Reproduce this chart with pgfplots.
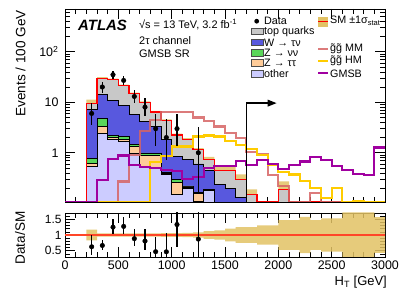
\documentclass[border=0pt]{standalone}
\usepackage{pgfplots}
\pgfplotsset{compat=1.18}
\usepackage{pgfplotstable}
\usepgfplotslibrary{fillbetween}
\usetikzlibrary{arrows.meta}
\usepackage{fontspec}
\setmainfont{Liberation Sans}
\definecolor{cTop}{RGB}{200,200,200}
\definecolor{cW}{RGB}{88,88,222}
\definecolor{cZnn}{RGB}{90,214,90}
\definecolor{cZtt}{RGB}{255,204,153}
\definecolor{cOth}{RGB}{204,204,255}
\definecolor{cMM}{RGB}{214,100,100}
\definecolor{cHM}{RGB}{255,204,0}
\definecolor{cGM}{RGB}{160,0,160}
\definecolor{cBand}{RGB}{226,194,100}
\definecolor{cSM}{RGB}{255,0,0}
\definecolor{cRat}{RGB}{255,70,40}
\newcommand\fs[1]{\fontsize{#1}{#1}\selectfont}

% cumulative stack: other, +Z->tautau, +Z->nunu, +W->taunu, +top (total)
\pgfplotstableread{
x c1 c2 c3 c4 c5
200 0.01 0.01 0.01 0.01 0.01
200 0.535 0.625 0.785 7.3 9.6
300 2.45 3.3 4.86 14.1 30
400 1.81 2.0 2.2 10.8 28
500 1.7 1.8 2.1 8.7 21.2
600 0.99 1.33 1.44 5.7 14.7
700 0.54 0.88 0.99 4.17 9.9
800 0.5 0.88 0.95 3.3 6.4
900 0.37 0.39 0.41 1.8 4.3
1000 0.147 0.26 0.29 0.85 2.25
1100 0.2 0.21 0.22 0.73 1.81
1200 0.11 0.155 0.165 0.6 1.15
1300 0.177 0.18 0.185 0.45 0.74
1400 0.01 0.01 0.01 0.24 0.45
1500 0.01 0.01 0.01 0.2 0.45
1600 0.01 0.01 0.01 0.13 0.3
1700 0.01 0.01 0.01 0.01 0.15
1800 0.01 0.01 0.01 0.01 0.01
1900 0.01 0.01 0.01 0.01 0.01
2000 0.01 0.01 0.01 0.01 0.185
2100 0.01 0.01 0.01 0.01 0.01
2200 0.01 0.01 0.01 0.01 0.01
}\stack

\pgfplotstableread{
x t
0 0.106
200 9.6
300 30
400 28
500 21.2
600 14.7
700 9.9
800 6.4
900 4.3
1000 2.25
1100 1.81
1200 1.15
1300 0.74
1400 0.45
1500 0.45
1600 0.3
1700 0.15
1800 0.106
1900 0.106
2000 0.185
2100 0.106
3000 0.106
}\smline

\pgfplotstableread{
x lo hi
200 7.97 11.23
300 28.5 31.5
400 26.6 29.4
500 20.14 22.26
600 13.97 15.44
700 9.41 10.40
800 6.08 6.72
900 4.04 4.56
1000 2.12 2.39
1100 1.68 1.94
1200 1.06 1.24
1300 0.65 0.83
1400 0.383 0.518
1500 0.36 0.54
1600 0.225 0.375
1700 0.1125 0.1875
1800 0.01 0.01
1900 0.01 0.01
2000 0.098 0.272
2100 0.01 0.01
2200 0.01 0.01
}\mband

\pgfplotstableread{
x mm hm gm
0 0.106 0.106 0.106
100 0.106 0.106 0.106
200 0.106 0.106 0.106
300 0.106 0.106 0.29
400 0.106 0.106 0.75
500 0.27 0.106 0.88
600 0.91 0.106 0.58
700 2.7 0.106 0.52
800 4.5 0.65 0.5
900 6.3 0.85 0.45
1000 6.3 1.33 0.43
1100 6.3 1.33 0.3
1200 5.0 2.1 0.33
1300 4.3 2.2 0.5
1400 3.3 2.1 0.54
1500 2.45 1.73 0.54
1600 1.95 1.44 0.69
1700 1.03 1.18 0.58
1800 0.94 0.91 0.73
1900 0.36 0.58 0.6
2000 0.22 0.41 0.48
2100 0.106 0.37 0.58
2200 0.106 0.28 0.67
2300 0.16 0.2 0.81
2400 0.106 0.127 0.73
2500 0.106 0.2 0.54
2600 0.106 0.106 0.46
2700 0.106 0.11 0.38
2800 0.106 0.106 0.36
2900 0.106 0.106 1.27
3000 0.106 0.106 1.27
}\sig

\pgfplotstableread{
x y em ep
250 6 2.38 3.58
350 20 4.44 5.55
450 35 5.89 6.97
550 27 5.16 6.24
650 13 3.56 4.67
750 8 2.76 3.94
850 3 1.63 2.92
950 2 1.29 2.64
1050 3 1.63 2.92
1250 1 0.83 2.30
}\data

\pgfplotstableread{
x r em ep
250 0.625 0.248 0.373
350 0.667 0.148 0.185
450 1.25 0.21 0.249
550 1.274 0.243 0.294
650 0.884 0.242 0.318
750 0.808 0.279 0.398
850 0.469 0.255 0.456
950 0.465 0.30 0.614
1050 1.333 0.724 1.298
1250 0.87 0.722 2.0
}\ratio

\pgfplotstableread{
x lo hi
200 0.83 1.17
300 0.95 1.05
400 0.95 1.05
500 0.95 1.05
600 0.95 1.05
700 0.95 1.05
800 0.95 1.05
900 0.94 1.06
1000 0.94 1.06
1100 0.93 1.07
1200 0.92 1.08
1300 0.88 1.12
1400 0.85 1.15
1500 0.80 1.20
1600 0.75 1.25
1700 0.75 1.25
1800 0.69 1.31
1900 0.69 1.31
2000 0.53 1.47
2100 0.53 1.47
2200 0.42 1.58
2300 0.53 1.47
2400 0.47 1.53
2500 0.47 1.53
2600 0.28 1.72
2700 0.28 1.72
2800 0.28 1.72
2900 0.43 1.57
3000 0.43 1.57
}\rband

\pgfplotsset{
  every tick label/.append style={font=\fs{12.5}},
  atlas/.style={
    scale only axis, width=320bp, anchor=south west,
    xmin=0, xmax=3000,
    tick align=inside, tick pos=both,
    major tick length=10bp, minor tick length=5bp,
    every tick/.style={black, line width=0.6bp},
    axis line style={line width=0.8bp},
    xtick={0,500,...,3000}, minor x tick num=4,
  },
}

\begin{document}
\begin{tikzpicture}
\path (0bp,0bp) rectangle (407bp,292bp);

\begin{axis}[atlas, at={(65bp,90bp)}, height=193bp,
  ymode=log, ymin=0.106, ymax=700,
  xticklabels={},
  ytick={1,10,100}, yticklabels={1,10,10\textsuperscript{2}},
  minor ytick={0.2,0.3,0.4,0.5,0.6,0.7,0.8,0.9,2,3,4,5,6,7,8,9,20,30,40,50,60,70,80,90,200,300,400,500,600},
  yticklabel style={xshift=-3bp},
]
\addplot[const plot, fill=cTop, draw=black, line width=0.9bp] table[x=x,y=c5]{\stack} -- cycle;
\addplot[const plot, fill=cW, draw=black, line width=0.9bp] table[x=x,y=c4]{\stack} -- cycle;
\addplot[const plot, fill=cZnn, draw=black, line width=0.9bp] table[x=x,y=c3]{\stack} -- cycle;
\addplot[const plot, fill=cZtt, draw=black, line width=0.9bp] table[x=x,y=c2]{\stack} -- cycle;
\addplot[const plot, fill=cOth, draw=black, line width=0.9bp] table[x=x,y=c1]{\stack} -- cycle;

\addplot[name path=bu, draw=none, const plot] table[x=x,y=hi]{\mband};
\addplot[name path=bl, draw=none, const plot] table[x=x,y=lo]{\mband};
\addplot[fill=cBand, fill opacity=0.85, draw=none] fill between[of=bu and bl];

\addplot[const plot, cSM, line width=1.2bp] table[x=x,y=t]{\smline};

\addplot[const plot, cMM, line width=2.2bp, opacity=0.85] table[x=x,y=mm]{\sig};
\addplot[const plot, cHM, line width=2.2bp] table[x=x,y=hm]{\sig};
\addplot[const plot, cGM, line width=2.2bp] table[x=x,y=gm]{\sig};

\addplot[only marks, mark=*, mark size=2.3bp, black,
  error bars/.cd, y dir=both, y explicit, error mark=none,
  error bar style={line width=1.3bp, black}]
  table[x=x,y=y,y error plus=ep,y error minus=em]{\data};

\draw[black, line width=1.6bp, -{Triangle[length=9bp,width=6.5bp]}]
  (axis cs:1700,0.106) -- (axis cs:1700,9.6) -- (axis cs:1985,9.6);
\end{axis}

\begin{axis}[atlas, at={(65bp,35bp)}, height=44bp,
  ymin=0.3, ymax=1.7,
  xticklabels={0,500,1000,1500,2000,2500,3000},
  ytick={0.5,1,1.5}, yticklabels={0.5,1,1.5},
  minor ytick={0.4,0.6,0.7,0.8,0.9,1.1,1.2,1.3,1.4,1.6},
  yticklabel style={font=\fs{12}},
]
\addplot[name path=ru, draw=none, const plot] table[x=x,y=hi]{\rband};
\addplot[name path=rl, draw=none, const plot] table[x=x,y=lo]{\rband};
\addplot[fill=cBand, fill opacity=0.85, draw=none] fill between[of=ru and rl];
\addplot[cRat, line width=1.8bp] coordinates {(0,1) (3000,1)};
\addplot[only marks, mark=*, mark size=2.3bp, black,
  error bars/.cd, y dir=both, y explicit, error mark=none,
  error bar style={line width=1.3bp, black}]
  table[x=x,y=r,y error plus=ep,y error minus=em]{\ratio};
\end{axis}

\begin{scope}[x=1bp,y=1bp]
% axis titles
\node[rotate=90, anchor=east, inner sep=0, font=\fs{13.6}] at (20.5,282) {Events / 100 GeV};
\node[rotate=90, inner sep=0, font=\fs{13.6}] at (20,54) {Data/SM};
\node[anchor=east, inner sep=0, font=\fs{13}] at (387,10) {H\textsubscript{T} [GeV]};

% labels
\node[anchor=west, inner sep=0, font=\fs{15}\bfseries\itshape] at (78,267) {ATLAS};
\node[anchor=west, inner sep=0, font=\fs{11}] at (139,267) {√s = 13 TeV, 3.2 fb\textsuperscript{-1}};
\node[anchor=west, inner sep=0, font=\fs{11}] at (139,251) {2τ channel};
\node[anchor=west, inner sep=0, font=\fs{11}] at (139,238.5) {GMSB SR};

% legend column 1
\fill[black] (256.7,270.8) circle (2.4);
\node[anchor=west, inner sep=0, font=\fs{10.8}] at (264,271) {Data};
\filldraw[fill=cTop, draw=black!70, line width=1bp] (251,257) rectangle (263.5,263.6);
\node[anchor=west, inner sep=0, font=\fs{10.8}] at (264,260.3) {top quarks};
\filldraw[fill=cW, draw=black!70, line width=1bp] (251,246.2) rectangle (263.5,252.8);
\node[anchor=west, inner sep=0, font=\fs{10.8}] at (264,249.5) {W → τν};
\filldraw[fill=cZnn, draw=black!70, line width=1bp] (251,235.7) rectangle (263.5,242.3);
\node[anchor=west, inner sep=0, font=\fs{10.8}] at (264,239) {Z → νν};
\filldraw[fill=cZtt, draw=black!70, line width=1bp] (251,225.4) rectangle (263.5,232);
\node[anchor=west, inner sep=0, font=\fs{10.8}] at (264,228.7) {Z → ττ};
\filldraw[fill=cOth, draw=black!70, line width=1bp] (251,214.7) rectangle (263.5,221.3);
\node[anchor=west, inner sep=0, font=\fs{10.8}] at (264,218) {other};

% legend column 2
\fill[cBand] (318.3,265.3) rectangle (328.3,275.3);
\draw[cSM, line width=1.2bp] (318.3,270.3) -- (328.3,270.3);
\node[anchor=west, inner sep=0, font=\fs{10.8}] at (330,271) {SM ±1σ\textsubscript{stat}};
\draw[cMM, line width=2.2bp, opacity=0.85] (318,243) -- (328,243);
\node[anchor=west, inner sep=0, font=\fs{10.8}] at (330,243) {\~{g}\~{g} MM};
\draw[cHM, line width=2.2bp] (318,231) -- (328,231);
\node[anchor=west, inner sep=0, font=\fs{10.8}] at (330,231) {\~{g}\~{g} HM};
\draw[cGM, line width=2.2bp] (318,218.7) -- (328,218.7);
\node[anchor=west, inner sep=0, font=\fs{10.8}] at (330,218.7) {GMSB};
\end{scope}
\end{tikzpicture}
\end{document}
